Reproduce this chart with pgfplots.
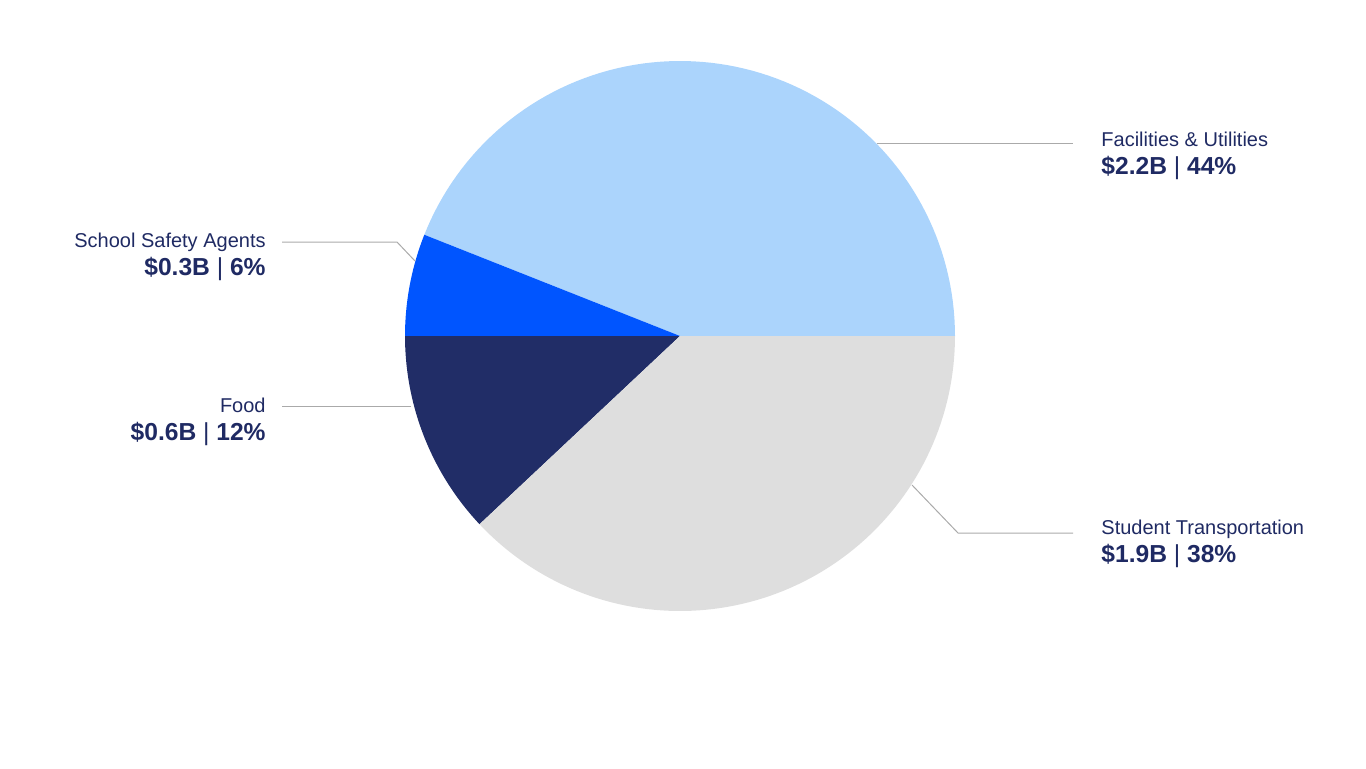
\documentclass[border=0pt]{standalone}
\usepackage{pgfplots}
\pgfplotsset{compat=1.18}
\usepackage{fontspec}
\setmainfont{Liberation Sans}

\definecolor{facil}{HTML}{ABD4FC}
\definecolor{safety}{HTML}{0055FF}
\definecolor{food}{HTML}{212D67}
\definecolor{trans}{HTML}{DEDEDE}
\definecolor{txt}{HTML}{1F2A63}
\definecolor{lead}{HTML}{AAAAAA}

% shares in percent, counter-clockwise from 3 o'clock
\def\pFac{44}
\def\pSaf{6}
\def\pFood{12}
\def\pTrans{38}
\pgfmathsetmacro{\aA}{3.6*\pFac}
\pgfmathsetmacro{\aB}{\aA+3.6*\pSaf}
\pgfmathsetmacro{\aC}{\aB+3.6*\pFood}
\pgfmathsetmacro{\aD}{\aC+3.6*\pTrans}

\def\cx{680}
\def\cy{432}
\def\pr{275}

\newcommand{\amt}[2]{{\fontsize{12.3pt}{14pt}\selectfont\textbf{#1} | \textbf{#2}}}

\begin{document}
\begin{tikzpicture}[
    lbl/.style={font=\fontsize{10pt}{14pt}\selectfont, text=txt, inner sep=0pt},
  ]
\begin{axis}[
    scale only axis,
    width=683pt, height=384pt,
    xmin=0, xmax=1366, ymin=0, ymax=768,
    hide axis,
    clip=false,
    samples=90,
  ]
  \addplot[draw=none, fill=facil, domain=0:\aA] ({\cx+\pr*cos(x)},{\cy+\pr*sin(x)}) -- (\cx,\cy) -- cycle;
  \addplot[draw=none, fill=safety, domain=\aA:\aB] ({\cx+\pr*cos(x)},{\cy+\pr*sin(x)}) -- (\cx,\cy) -- cycle;
  \addplot[draw=none, fill=food, domain=\aB:\aC] ({\cx+\pr*cos(x)},{\cy+\pr*sin(x)}) -- (\cx,\cy) -- cycle;
  \addplot[draw=none, fill=trans, domain=\aC:\aD] ({\cx+\pr*cos(x)},{\cy+\pr*sin(x)}) -- (\cx,\cy) -- cycle;

  % leader lines
  \addplot[lead, line width=0.5pt] coordinates {(877,625) (1073,625)};
  \addplot[lead, line width=0.5pt] coordinates {(282,526) (397,526) (415,507)};
  \addplot[lead, line width=0.5pt] coordinates {(282,362) (411,362)};
  \addplot[lead, line width=0.5pt] coordinates {(912,283) (958,235) (1073,235)};

  % labels
  \node[lbl, anchor=base west] at (1101,622) {Facilities \& Utilities};
  \node[lbl, anchor=base west] at (1101,594) {\amt{\$2.2B}{44\%}};
  \node[lbl, anchor=base east] at (266,521) {School Safety Agents};
  \node[lbl, anchor=base east] at (266,493) {\amt{\$0.3B}{6\%}};
  \node[lbl, anchor=base east] at (266,356) {Food};
  \node[lbl, anchor=base east] at (266,328) {\amt{\$0.6B}{12\%}};
  \node[lbl, anchor=base west] at (1101,234) {Student Transportation};
  \node[lbl, anchor=base west] at (1101,206) {\amt{\$1.9B}{38\%}};

  \path (0,0) rectangle (1366,768);
\end{axis}
\end{tikzpicture}
\end{document}
